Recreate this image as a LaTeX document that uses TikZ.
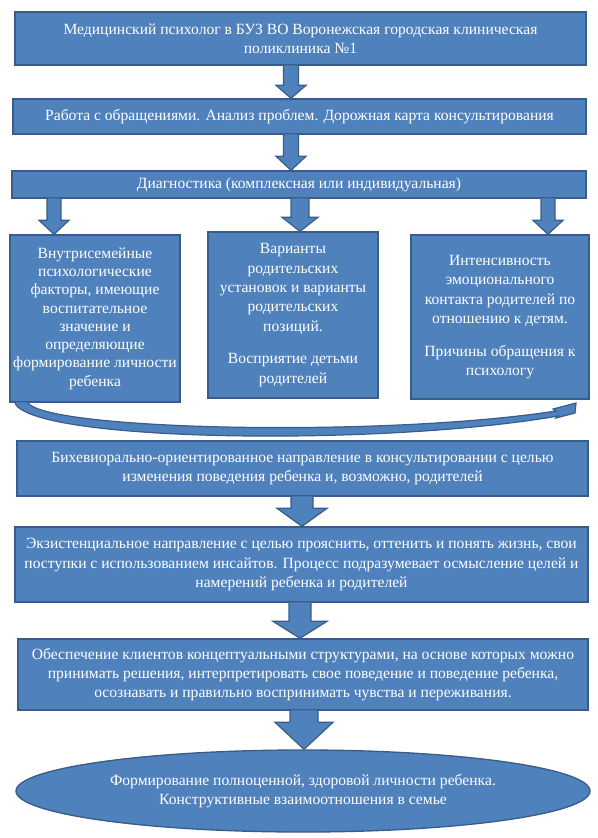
\documentclass[tikz,border=0pt]{standalone}
\usepackage{fontspec}
\setmainfont{Liberation Serif}
\usetikzlibrary{calc,shapes.geometric}

\definecolor{boxblue}{HTML}{4F81BD}
\definecolor{edgeblue}{HTML}{385D8A}

% block arrow between two nodes: x, from, to, shaft half, head half, head length
\newcommand{\blockarrow}[6]{%
  \coordinate (ax) at (#1,0);
  \draw[arrowshape]
    ($(ax |- #2.south)+(-#4,-1)$) --
    ($(ax |- #3.north)+(-#4,-#6)$) --
    ($(ax |- #3.north)+(-#5,-#6)$) --
    (ax |- #3.north) --
    ($(ax |- #3.north)+(#5,-#6)$) --
    ($(ax |- #3.north)+(#4,-#6)$) --
    ($(ax |- #2.south)+(#4,-1)$) -- cycle;
}

\begin{document}
\begin{tikzpicture}[
    x=0.75pt, y=-0.75pt,
    stepbox/.style={draw=edgeblue, fill=boxblue, line width=1pt,
        text=white, align=center, inner sep=0pt,
        font=\fontsize{11.7}{14.5}\selectfont},
    goalbox/.style={stepbox, ellipse},
    arrowshape/.style={draw=edgeblue, fill=boxblue, line width=0.9pt,
        line join=miter},
]

\def\u{0.75pt}   % one pixel of the reference

\useasboundingbox (0,0) rectangle (597,838);

% ── Top chain ───────────────────────────────────────────────
\node[stepbox, minimum width=571*\u, minimum height=53*\u]
    (psy) at (300.5, 38.5)
    {Медицинский психолог в БУЗ ВО Воронежская городская клиническая\\
     поликлиника №1};
\node[stepbox, minimum width=573*\u, minimum height=35*\u]
    (work) at (299.5, 116.5)
    {Работа с обращениями. Анализ проблем. Дорожная карта консультирования};
\node[stepbox, minimum width=574*\u, minimum height=27*\u]
    (diag) at (299, 184.5)
    {Диагностика (комплексная или индивидуальная)};

% ── Diagnostic fields ───────────────────────────────────────
\node[stepbox, minimum width=170*\u, minimum height=167*\u,
      font=\fontsize{11.7}{13.7}\selectfont]
    (family) at (95, 318.5)
    {Внутрисемейные\\психологические\\факторы, имеющие\\воспитательное\\
     значение и\\определяющие\\формирование личности\\ребенка};
\node[stepbox, minimum width=170*\u, minimum height=166*\u]
    (attit) at (293, 315)
    {Варианты\\родительских\\установок и варианты\\родительских\\позиций.\\[10pt]
     Восприятие детьми\\родителей};
\node[stepbox, minimum width=178*\u, minimum height=164*\u]
    (contact) at (500, 317)
    {Интенсивность\\эмоционального\\контакта родителей по\\отношению к детям.\\[10pt]
     Причины обращения к\\психологу};

% ── Counselling directions ──────────────────────────────────
\node[stepbox, minimum width=571*\u, minimum height=55*\u]
    (behav) at (302.5, 468.5)
    {Бихевиорально-ориентированное направление в консультировании с целью\\
     изменения поведения ребенка и, возможно, родителей};
\node[stepbox, minimum width=573*\u, minimum height=75*\u]
    (exist) at (301.5, 564.5)
    {Экзистенциальное направление с целью прояснить, оттенить и понять жизнь, свои\\
     поступки с использованием инсайтов. Процесс подразумевает осмысление целей и\\
     намерений ребенка и родителей};
\node[stepbox, minimum width=570*\u, minimum height=71*\u]
    (concept) at (303, 674.5)
    {Обеспечение клиентов концептуальными структурами, на основе которых можно\\
     принимать решения, интерпретировать свое поведение и поведение ребенка,\\
     осознавать и правильно воспринимать чувства и переживания.};

% ── Goal ────────────────────────────────────────────────────
\node[goalbox, minimum width=574*\u, minimum height=82*\u]
    (goal) at (303, 791)
    {Формирование полноценной, здоровой личности ребенка.\\
     Конструктивные взаимоотношения в семье};

% ── Block arrows ────────────────────────────────────────────
\blockarrow{291}{psy}{work}{7.5}{15}{13}
\blockarrow{291}{work}{diag}{7.5}{15}{14}
\foreach \xa/\target/\sh/\hd in {54/family/7/15, 300/attit/9/18, 548/contact/7/15} {
    \blockarrow{\xa}{diag}{\target}{\sh}{\hd}{14}
}
\blockarrow{302}{behav}{exist}{11}{25}{18}
\blockarrow{300}{exist}{concept}{11}{27}{17}
\blockarrow{304}{concept}{goal}{14}{29}{27}

% ── Curved arrow under the fields ───────────────────────────
\draw[arrowshape]
    ($(family.south west)+(5,-1)$)
        .. controls (25,442) and (380,447) .. (558,416)
    -- (556,418) -- (575,413) -- (576,403) -- (553,409)
    -- (556,411)
        .. controls (380,438) and (38,430) .. ($(family.south west)+(18,-1)$)
    -- cycle;

\end{tikzpicture}
\end{document}
